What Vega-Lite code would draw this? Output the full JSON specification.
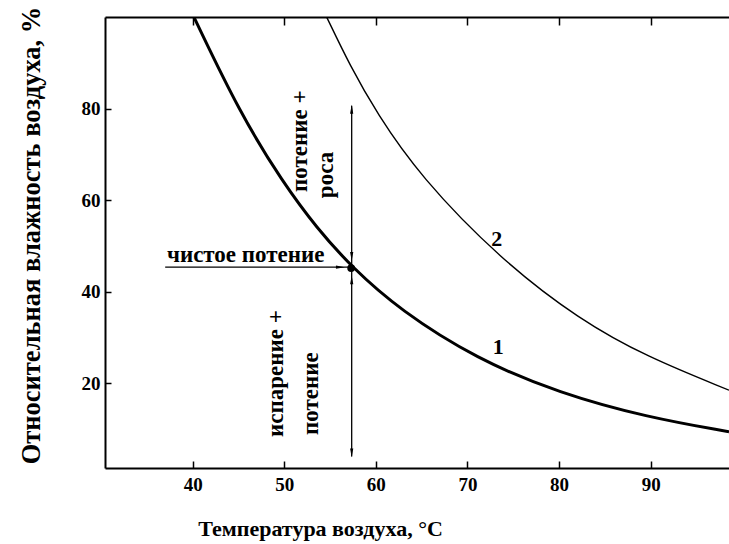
{
  "$schema": "https://vega.github.io/schema/vega-lite/v6.json",
  "width": 624,
  "height": 451,
  "autosize": {"type": "none"},
  "padding": {"left": 105, "top": 17, "right": 0, "bottom": 76},
  "background": "white",
  "config": {
    "view": {"stroke": null},
    "font": "Liberation Serif",
    "axis": {
      "grid": false,
      "domainColor": "black",
      "domainWidth": 2,
      "tickColor": "black",
      "tickWidth": 1.5,
      "tickSize": 7,
      "labelFont": "Liberation Serif",
      "labelFontWeight": "bold",
      "labelFontSize": 19,
      "labelColor": "black",
      "titleFont": "Liberation Serif",
      "titleFontWeight": "bold",
      "titleColor": "black"
    }
  },
  "datasets": {
    "curves": [
      {"curve": "1", "t": 40.14, "h": 100.1},
      {"curve": "1", "t": 45.16, "h": 79.1},
      {"curve": "1", "t": 49.89, "h": 63.8},
      {"curve": "1", "t": 53.54, "h": 54.0},
      {"curve": "1", "t": 57.36, "h": 45.4},
      {"curve": "1", "t": 62.63, "h": 36.0},
      {"curve": "1", "t": 71.0, "h": 25.3},
      {"curve": "1", "t": 80.1, "h": 17.8},
      {"curve": "1", "t": 89.56, "h": 12.6},
      {"curve": "1", "t": 98.55, "h": 9.4},
      {"curve": "2", "t": 54.63, "h": 100.1},
      {"curve": "2", "t": 57.17, "h": 89.5},
      {"curve": "2", "t": 60.09, "h": 79.1},
      {"curve": "2", "t": 64.8, "h": 65.3},
      {"curve": "2", "t": 73.66, "h": 47.0},
      {"curve": "2", "t": 82.28, "h": 33.85},
      {"curve": "2", "t": 89.56, "h": 25.8},
      {"curve": "2", "t": 98.55, "h": 18.5}
    ],
    "rules": [
      {"t": 57.36, "h": 80.7, "t2": 57.36, "h2": 4.0},
      {"t": 37.0, "h": 45.4, "t2": 57.2, "h2": 45.4}
    ],
    "heads": [
      {"t": 57.36, "h": 80.9, "dir": "up"},
      {"t": 57.36, "h": 46.8, "dir": "down"},
      {"t": 57.36, "h": 43.6, "dir": "up"},
      {"t": 57.36, "h": 3.8, "dir": "down"},
      {"t": 56.6, "h": 45.4, "dir": "right"}
    ],
    "dot": [{"t": 57.3, "h": 45.2}],
    "labels": [
      {"t": 37.19, "h": 46.6, "text": "чистое потение", "angle": 0},
      {"t": 52.48, "h": 61.85, "text": "потение +", "angle": 270},
      {"t": 55.32, "h": 60.5, "text": "роса", "angle": 270},
      {"t": 49.86, "h": 8.26, "text": "испарение +", "angle": 270},
      {"t": 53.68, "h": 8.7, "text": "потение", "angle": 270}
    ],
    "nums": [
      {"t": 73.36, "h": 28.0, "text": "1"},
      {"t": 73.2, "h": 51.6, "text": "2"}
    ]
  },
  "layer": [
    {
      "data": {"name": "curves"},
      "mark": {"type": "line", "interpolate": "basis", "color": "black", "clip": true},
      "encoding": {
        "x": {
          "field": "t", "type": "quantitative",
          "scale": {"domain": [30.43, 98.55], "nice": false, "zero": false},
          "axis": {
            "orient": "bottom", "values": [40, 50, 60, 70, 80, 90],
            "ticks": false,
            "labelPadding": 7,
            "title": "Температура воздуха,  °C",
            "titleFontSize": 22,
            "titleX": 215, "titleY": 67,
            "titleAlign": "center", "titleBaseline": "alphabetic"
          }
        },
        "y": {
          "field": "h", "type": "quantitative",
          "scale": {"domain": [1.47, 100.12], "nice": false, "zero": false},
          "axis": {
            "orient": "left", "values": [20, 40, 60, 80],
            "ticks": false,
            "labelPadding": 5,
            "title": "Относительная влажность воздуха, %",
            "titleFontSize": 26.5,
            "titleAngle": 270,
            "titleX": -74, "titleY": 218,
            "titleAlign": "center", "titleBaseline": "middle"
          }
        },
        "detail": {"field": "curve"},
        "strokeWidth": {
          "field": "curve", "type": "nominal",
          "scale": {"domain": ["1", "2"], "range": [3, 1.4]},
          "legend": null
        }
      }
    },
    {
      "data": {"name": "rules"},
      "mark": {"type": "rule", "color": "black", "strokeWidth": 1.3},
      "encoding": {
        "x": {
          "field": "t", "type": "quantitative",
          "axis": {"orient": "top", "offset": -451, "values": [40, 50, 60, 70, 80, 90], "domain": false, "labels": false, "title": null}
        },
        "y": {
          "field": "h", "type": "quantitative",
          "axis": {"orient": "right", "offset": -624, "values": [20, 40, 60, 80], "domain": false, "labels": false, "title": null, "tickSize": 6}
        },
        "x2": {"field": "t2"},
        "y2": {"field": "h2"}
      }
    },
    {
      "data": {"name": "heads"},
      "mark": {"type": "point", "filled": true, "color": "black", "opacity": 1, "size": 64},
      "encoding": {
        "x": {
          "field": "t", "type": "quantitative",
          "axis": {"orient": "bottom", "offset": -451, "values": [40, 50, 60, 70, 80, 90], "labels": false, "title": null, "tickSize": 8}
        },
        "y": {"field": "h", "type": "quantitative", "axis": null},
        "shape": {
          "field": "dir", "type": "nominal",
          "scale": {
            "domain": ["up", "down", "right"],
            "range": ["M0,0L-0.4,2.2L0.4,2.2Z", "M0,0L-0.4,-2.2L0.4,-2.2Z", "M0,0L-2.2,-0.4L-2.2,0.4Z"]
          },
          "legend": null
        }
      }
    },
    {
      "data": {"name": "dot"},
      "mark": {"type": "point", "filled": true, "color": "black", "opacity": 1, "size": 60, "shape": "circle"},
      "encoding": {
        "x": {"field": "t", "type": "quantitative", "axis": null},
        "y": {"field": "h", "type": "quantitative", "axis": null}
      }
    },
    {
      "data": {"name": "labels"},
      "mark": {"type": "text", "align": "left", "baseline": "alphabetic", "font": "Liberation Serif", "fontWeight": "bold", "fontSize": 23, "color": "black"},
      "encoding": {
        "x": {"field": "t", "type": "quantitative", "axis": null},
        "y": {"field": "h", "type": "quantitative", "axis": null},
        "text": {"field": "text"},
        "angle": {"field": "angle", "type": "quantitative", "scale": null}
      }
    },
    {
      "data": {"name": "nums"},
      "mark": {"type": "text", "align": "center", "baseline": "middle", "font": "Liberation Serif", "fontWeight": "bold", "fontSize": 22, "color": "black"},
      "encoding": {
        "x": {"field": "t", "type": "quantitative", "axis": null},
        "y": {"field": "h", "type": "quantitative", "axis": null},
        "text": {"field": "text"}
      }
    }
  ],
  "resolve": {"axis": {"x": "independent", "y": "independent"}}
}
